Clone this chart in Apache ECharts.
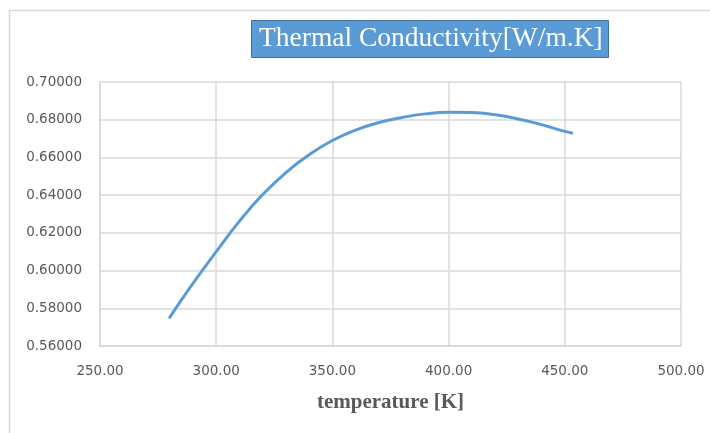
<!DOCTYPE html>
<html>
<head>
<meta charset="utf-8">
<script src="https://cdn.jsdelivr.net/npm/echarts@6/dist/echarts.min.js"></script>
<style>html,body{margin:0;padding:0;background:#fff;}#c{width:710px;height:433px;}</style>
</head>
<body>
<div id="c"></div>
<script>
// Data
const temperature = [280, 290, 300, 310, 320, 330, 340, 350, 360, 370, 380, 390, 400, 410, 420, 430, 440, 450, 453];
const conductivity = [0.5752, 0.5932, 0.6100, 0.6262, 0.6403, 0.6520, 0.6615, 0.6690, 0.6745, 0.6785, 0.6812, 0.6831, 0.6840, 0.6838, 0.6826, 0.6804, 0.6774, 0.6738, 0.6730];
const titleText = 'Thermal Conductivity[W/m.K]';
const xName = 'temperature [K]';

const chart = echarts.init(document.getElementById('c'), null, {renderer: 'canvas'});
const pts = temperature.map((t, i) => [t, conductivity[i]]);
chart.setOption({
  animation: false,
  backgroundColor: '#fff',
  graphic: [{
    type: 'rect', silent: true, z: -1,
    shape: {x: 9.5, y: 10.5, width: 720, height: 440},
    style: {fill: 'none', stroke: '#d9d9d9', lineWidth: 1.5}
  }],
  title: {
    text: titleText,
    left: 251, top: 20,
    backgroundColor: '#5b9bd5',
    borderColor: '#41719c', borderWidth: 1,
    padding: [5, 6, 5, 8],
    textStyle: {color: '#ffffff', fontFamily: 'Liberation Serif', fontWeight: 'normal', fontSize: 27.5}
  },
  grid: {left: 100, right: 29, top: 82, bottom: 87},
  xAxis: {
    type: 'value', min: 250, max: 500, interval: 50,
    name: xName, nameLocation: 'middle', nameGap: 46,
    nameTextStyle: {fontFamily: 'Liberation Serif', fontWeight: 'bold', fontSize: 21, color: '#595959'},
    axisLine: {show: true, lineStyle: {color: '#d9d9d9', width: 1.5}},
    axisTick: {show: false},
    axisLabel: {color: '#595959', fontSize: 13.5, fontFamily: 'DejaVu Sans', margin: 18, formatter: v => v.toFixed(2)},
    splitLine: {show: true, lineStyle: {color: '#d9d9d9', width: 1.5}}
  },
  yAxis: {
    type: 'value', min: 0.56, max: 0.70, interval: 0.02,
    axisLine: {show: true, lineStyle: {color: '#d9d9d9', width: 1.5}},
    axisTick: {show: false},
    axisLabel: {color: '#595959', fontSize: 13.5, fontFamily: 'DejaVu Sans', margin: 18, formatter: v => v.toFixed(5)},
    splitLine: {show: true, lineStyle: {color: '#d9d9d9', width: 1.5}}
  },
  series: [{
    type: 'line', data: pts, smooth: 0.5, showSymbol: false,
    lineStyle: {color: '#5b9bd5', width: 3, cap: 'round'}
  }]
});
</script>
</body>
</html>
